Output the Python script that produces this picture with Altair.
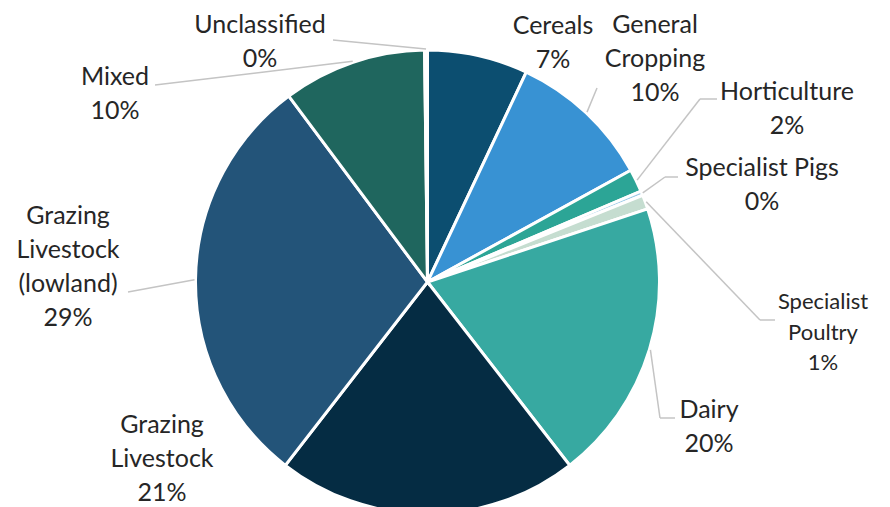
import math
import altair as alt
import pandas as pd

# ---- data ----
categories = ["Cereals", "General Cropping", "Horticulture", "Specialist Pigs",
              "Specialist Poultry", "Dairy", "Grazing Livestock",
              "Grazing Livestock (lowland)", "Mixed", "Unclassified"]
shares = [7.0, 10.0, 1.6, 0.3, 1.0, 19.6, 21.0, 29.3, 10.0, 0.2]
pct_labels = ["7%", "10%", "2%", "0%", "1%", "20%", "21%", "29%", "10%", "0%"]
label_names = ["Cereals", "General\nCropping", "Horticulture", "Specialist Pigs",
               "Specialist\nPoultry", "Dairy", "Grazing\nLivestock",
               "Grazing\nLivestock\n(lowland)", "Mixed", "Unclassified"]
colors = ["#0C4E70", "#3892D3", "#2CA596", "#9BC9E6", "#C5DDD0",
          "#37A9A1", "#052C43", "#235479", "#1F665E", "#B7C9D6"]

# ---- layout (page pixels) ----
OFF = 8
CX, CY, R = 427.5 - OFF, 282 - OFF, 232
# centre x and first-line centre y of each label block
label_first_line = {
    "Cereals": (553, 26), "General Cropping": (655, 25), "Horticulture": (787, 92),
    "Specialist Pigs": (762, 168), "Specialist Poultry": (823, 302), "Dairy": (709, 410),
    "Grazing Livestock": (162, 425), "Grazing Livestock (lowland)": (68, 216),
    "Mixed": (115, 77), "Unclassified": (260, 25),
}
leader_points = {
    "General Cropping": [(597, 88)],
    "Horticulture": [(700, 99), (717, 99)],
    "Specialist Pigs": [(665, 177), (678, 177)],
    "Specialist Poultry": [(760, 320), (775, 320)],
    "Dairy": [(660, 418), (675, 418)],
    "Grazing Livestock (lowland)": [(128, 292)],
    "Mixed": [(155, 85)],
    "Unclassified": [(333, 40)],
}

df = pd.DataFrame({"category": categories, "share": shares,
                   "order": list(range(len(categories)))})

# labels
lab_rows = []
for c, n, p in zip(categories, label_names, pct_labels):
    x, y = label_first_line[c]
    lab_rows.append({"category": c, "text": n + "\n" + p, "x": x - OFF, "y": y - OFF,
                     "small": c == "Specialist Poultry"})
labdf = pd.DataFrame(lab_rows)

# leader lines: start on the slice edge at its mid angle
total = sum(shares)
seg_rows = []
cum = 0.0
for c, s in zip(categories, shares):
    mid = (cum + s / 2) / total * 2 * math.pi
    cum += s
    if c not in leader_points:
        continue
    pts = [(CX + (R + 1) * math.sin(mid), CY - (R + 1) * math.cos(mid))]
    pts += [(x - OFF, y - OFF) for x, y in leader_points[c]]
    for (x1, y1), (x2, y2) in zip(pts[:-1], pts[1:]):
        seg_rows.append({"x": x1, "y": y1, "x2": x2, "y2": y2})
segdf = pd.DataFrame(seg_rows)

pie = alt.Chart(df).mark_arc(radius=R, stroke="white", strokeWidth=3).encode(
    theta=alt.Theta("share:Q", stack=True),
    order=alt.Order("order:Q"),
    color=alt.Color("category:N", scale=alt.Scale(domain=categories, range=colors), legend=None),
    x=alt.value(CX), y=alt.value(CY),
)

leaders = alt.Chart(segdf).mark_rule(color="#C4C4C4", strokeWidth=1.5).encode(
    x=alt.X("x:Q", scale=None), y=alt.Y("y:Q", scale=None),
    x2="x2:Q", y2="y2:Q",
)

base_lab = alt.Chart(labdf).encode(
    x=alt.X("x:Q", scale=None), y=alt.Y("y:Q", scale=None), text="text:N",
)
labels_main = base_lab.transform_filter("!datum.small").mark_text(
    font="Lato", fontSize=25, lineBreak="\n", lineHeight=34, align="center",
    baseline="middle", color="#262626",
)
labels_small = base_lab.transform_filter("datum.small").mark_text(
    font="Lato", fontSize=22, lineBreak="\n", lineHeight=30.5, align="center",
    baseline="middle", color="#262626",
)

chart = alt.layer(pie, leaders, labels_main, labels_small).properties(
    width=874, height=499, padding=0, autosize="none"
).configure_view(stroke=None)

chart.save("out.html", embed_options={"renderer": "svg", "actions": False})
